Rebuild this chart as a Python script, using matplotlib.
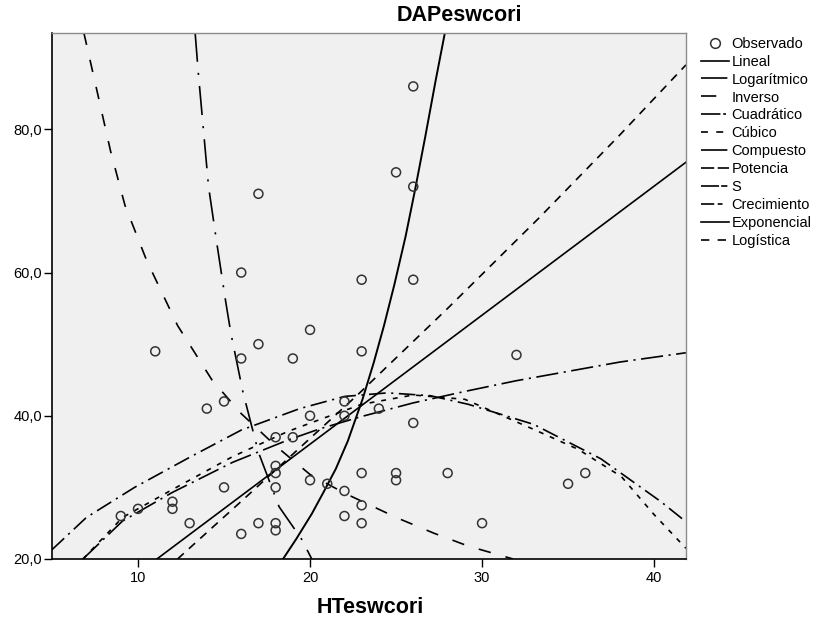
import matplotlib
matplotlib.use('Agg')
import matplotlib.pyplot as plt
from matplotlib.lines import Line2D

plt.rcParams['font.family'] = ['Liberation Sans', 'DejaVu Sans']
plt.rcParams['lines.scale_dashes'] = False

# observed points
ht_obs = [9, 10, 11, 12, 12, 13, 14, 15, 15, 16, 16, 16, 17, 17, 17, 18, 18, 18, 18, 18, 18,
          19, 19, 20, 20, 20, 21, 22, 22, 22, 22, 23, 23, 23, 23, 23, 24, 25, 25, 25,
          26, 26, 26, 26, 28, 30, 32, 35, 36]
dap_obs = [26, 27, 49, 28, 27, 25, 41, 42, 30, 60, 48, 23.5, 71, 50, 25, 37, 33, 32, 30, 25, 24,
           48, 37, 52, 40, 31, 30.5, 42, 40, 29.5, 26, 59, 49, 32, 27.5, 25, 41, 74, 32, 31,
           86, 72, 59, 39, 32, 25, 48.5, 30.5, 32]

# fitted curves
lin_x = [11.1, 41.85]
lin_y = [20.0, 75.4]

log_x = [6.8, 9.1, 12.0, 15.5, 18.7, 20.6, 23.0, 26.0, 29.0, 32.0, 35.0, 38.0, 41.85]
log_y = [20.0, 25.3, 29.3, 33.5, 36.6, 38.2, 39.9, 41.8, 43.4, 44.9, 46.2, 47.5, 48.8]

inv_x = [6.85, 7.5, 8.4, 9.24, 10.5, 12.3, 14.3, 16.0, 18.0, 20.0, 22.0, 25.1, 27.2, 29.2, 31.8]
inv_y = [93.5, 86.6, 77.0, 69.4, 61.7, 52.6, 45.0, 40.3, 35.8, 31.8, 29.2, 25.7, 23.6, 21.8, 20.0]

quad_x = [5.0, 7.0, 9.8, 13.0, 16.0, 19.4, 22.0, 24.5, 27.0, 29.2, 33.0, 36.9, 40.4, 41.85]
quad_y = [21.3, 25.8, 30.0, 34.2, 38.0, 41.0, 42.7, 43.2, 42.8, 41.6, 38.8, 34.0, 28.0, 25.2]

cub_x = [6.8, 9.1, 12.0, 15.5, 18.7, 20.6, 23.0, 26.0, 29.0, 33.0, 35.6, 38.1, 40.0, 41.85]
cub_y = [20.0, 25.8, 29.7, 34.3, 37.8, 39.5, 41.6, 42.9, 42.3, 38.1, 35.3, 31.5, 26.2, 21.5]

pot_x = [12.3, 16.3, 22.8, 28.0, 33.3, 38.0, 41.85]
pot_y = [20.0, 28.7, 43.0, 55.0, 67.6, 79.2, 89.0]

steep_x = [18.43, 19.2, 20.1, 20.8, 21.5, 22.2, 23.05, 23.7, 24.3, 24.9, 25.55, 26.1, 26.7, 27.3, 27.84]
steep_y = [20.0, 22.8, 26.3, 29.4, 32.6, 36.5, 42.3, 47.4, 52.6, 58.3, 65.0, 71.5, 79.0, 86.8, 93.5]

s_x = [13.32, 13.5, 13.8, 14.1, 14.6, 15.1, 15.4, 16.1, 17.0, 18.2, 19.5, 20.1]
s_y = [93.5, 88.0, 80.0, 72.0, 63.8, 55.9, 51.5, 43.3, 34.9, 27.3, 22.8, 20.0]

legend_labels = ['Observado', 'Lineal', 'Logarítmico', 'Inverso', 'Cuadrático', 'Cúbico',
                 'Compuesto', 'Potencia', 'S', 'Crecimiento', 'Exponencial', 'Logística']

x_ticks = [10, 20, 30, 40]
y_ticks = [20, 40, 60, 80]
y_ticklabels = ['20,0', '40,0', '60,0', '80,0']

fig = plt.figure(figsize=(8.19, 6.18), dpi=100)
ax = fig.add_axes([0.0635, 0.0955, 0.774, 0.8516])
ax.set_facecolor('#f0f0f0')

lw = 1.2
ax.plot(lin_x, lin_y, color='black', lw=lw)
ax.plot(log_x, log_y, color='black', lw=lw, ls=(0, (16, 4, 1.5, 4)))
ax.plot(inv_x, inv_y, color='black', lw=lw, ls=(0, (9, 11)))
ax.plot(quad_x, quad_y, color='black', lw=lw, ls=(0, (12, 4, 1.5, 4)))
ax.plot(cub_x, cub_y, color='black', lw=lw, ls=(0, (3.5, 5)))
ax.plot(pot_x, pot_y, color='black', lw=lw, ls=(0, (6, 5)))
ax.plot(steep_x, steep_y, color='black', lw=1.4)
ax.plot(s_x, s_y, color='black', lw=lw, ls=(0, (21, 8, 1.5, 8)))

ax.scatter(ht_obs, dap_obs, s=42, facecolors='none', edgecolors='#333333', linewidths=1.1, zorder=3)

ax.set_xlim(5, 41.85)
ax.set_ylim(20, 93.5)
ax.set_xticks(x_ticks)
ax.set_yticks(y_ticks)
ax.set_yticklabels(y_ticklabels)
ax.tick_params(axis='both', direction='out', length=6, width=1, labelsize=10.5, color='black')
ax.tick_params(axis='y', pad=1)
ax.tick_params(axis='x', pad=3)
for side in ['left', 'bottom']:
    ax.spines[side].set_color('black')
    ax.spines[side].set_linewidth(1.2)
for side in ['top', 'right']:
    ax.spines[side].set_color('#8c8c8c')
    ax.spines[side].set_linewidth(1.0)

fig.text(0.561, 0.975, 'DAPeswcori', ha='center', va='center', fontsize=15.5, fontweight='bold')
fig.text(0.4518, 0.0175, 'HTeswcori', ha='center', va='center', fontsize=15.5, fontweight='bold')

# legend handles in the styles shown in the key
styles = [None, '-', (0, (19, 2, 1, 10)), (0, (11, 20)), (0, (14, 2, 2, 10)), (0, (5, 6)),
          (0, (19, 2, 1, 10)), (0, (9.5, 2.5)), (0, (13, 1.5, 4.5, 1.5)), (0, (9.5, 2.5, 3.5, 5)),
          '-', (0, (6, 6))]
handles = []
for lab, st in zip(legend_labels, styles):
    if st is None:
        handles.append(Line2D([], [], ls='none', marker='o', markersize=7, markerfacecolor='none',
                              markeredgecolor='#333333', markeredgewidth=1.1))
    else:
        handles.append(Line2D([], [], color='black', lw=1.2, ls=st))
fig.legend(handles, legend_labels, loc='upper left', bbox_to_anchor=(0.856, 0.9406),
           frameon=False, fontsize=10.5, handlelength=1.9, handletextpad=0.2,
           labelspacing=0.27, borderpad=0, borderaxespad=0)

fig.savefig('out.png', dpi=100)
